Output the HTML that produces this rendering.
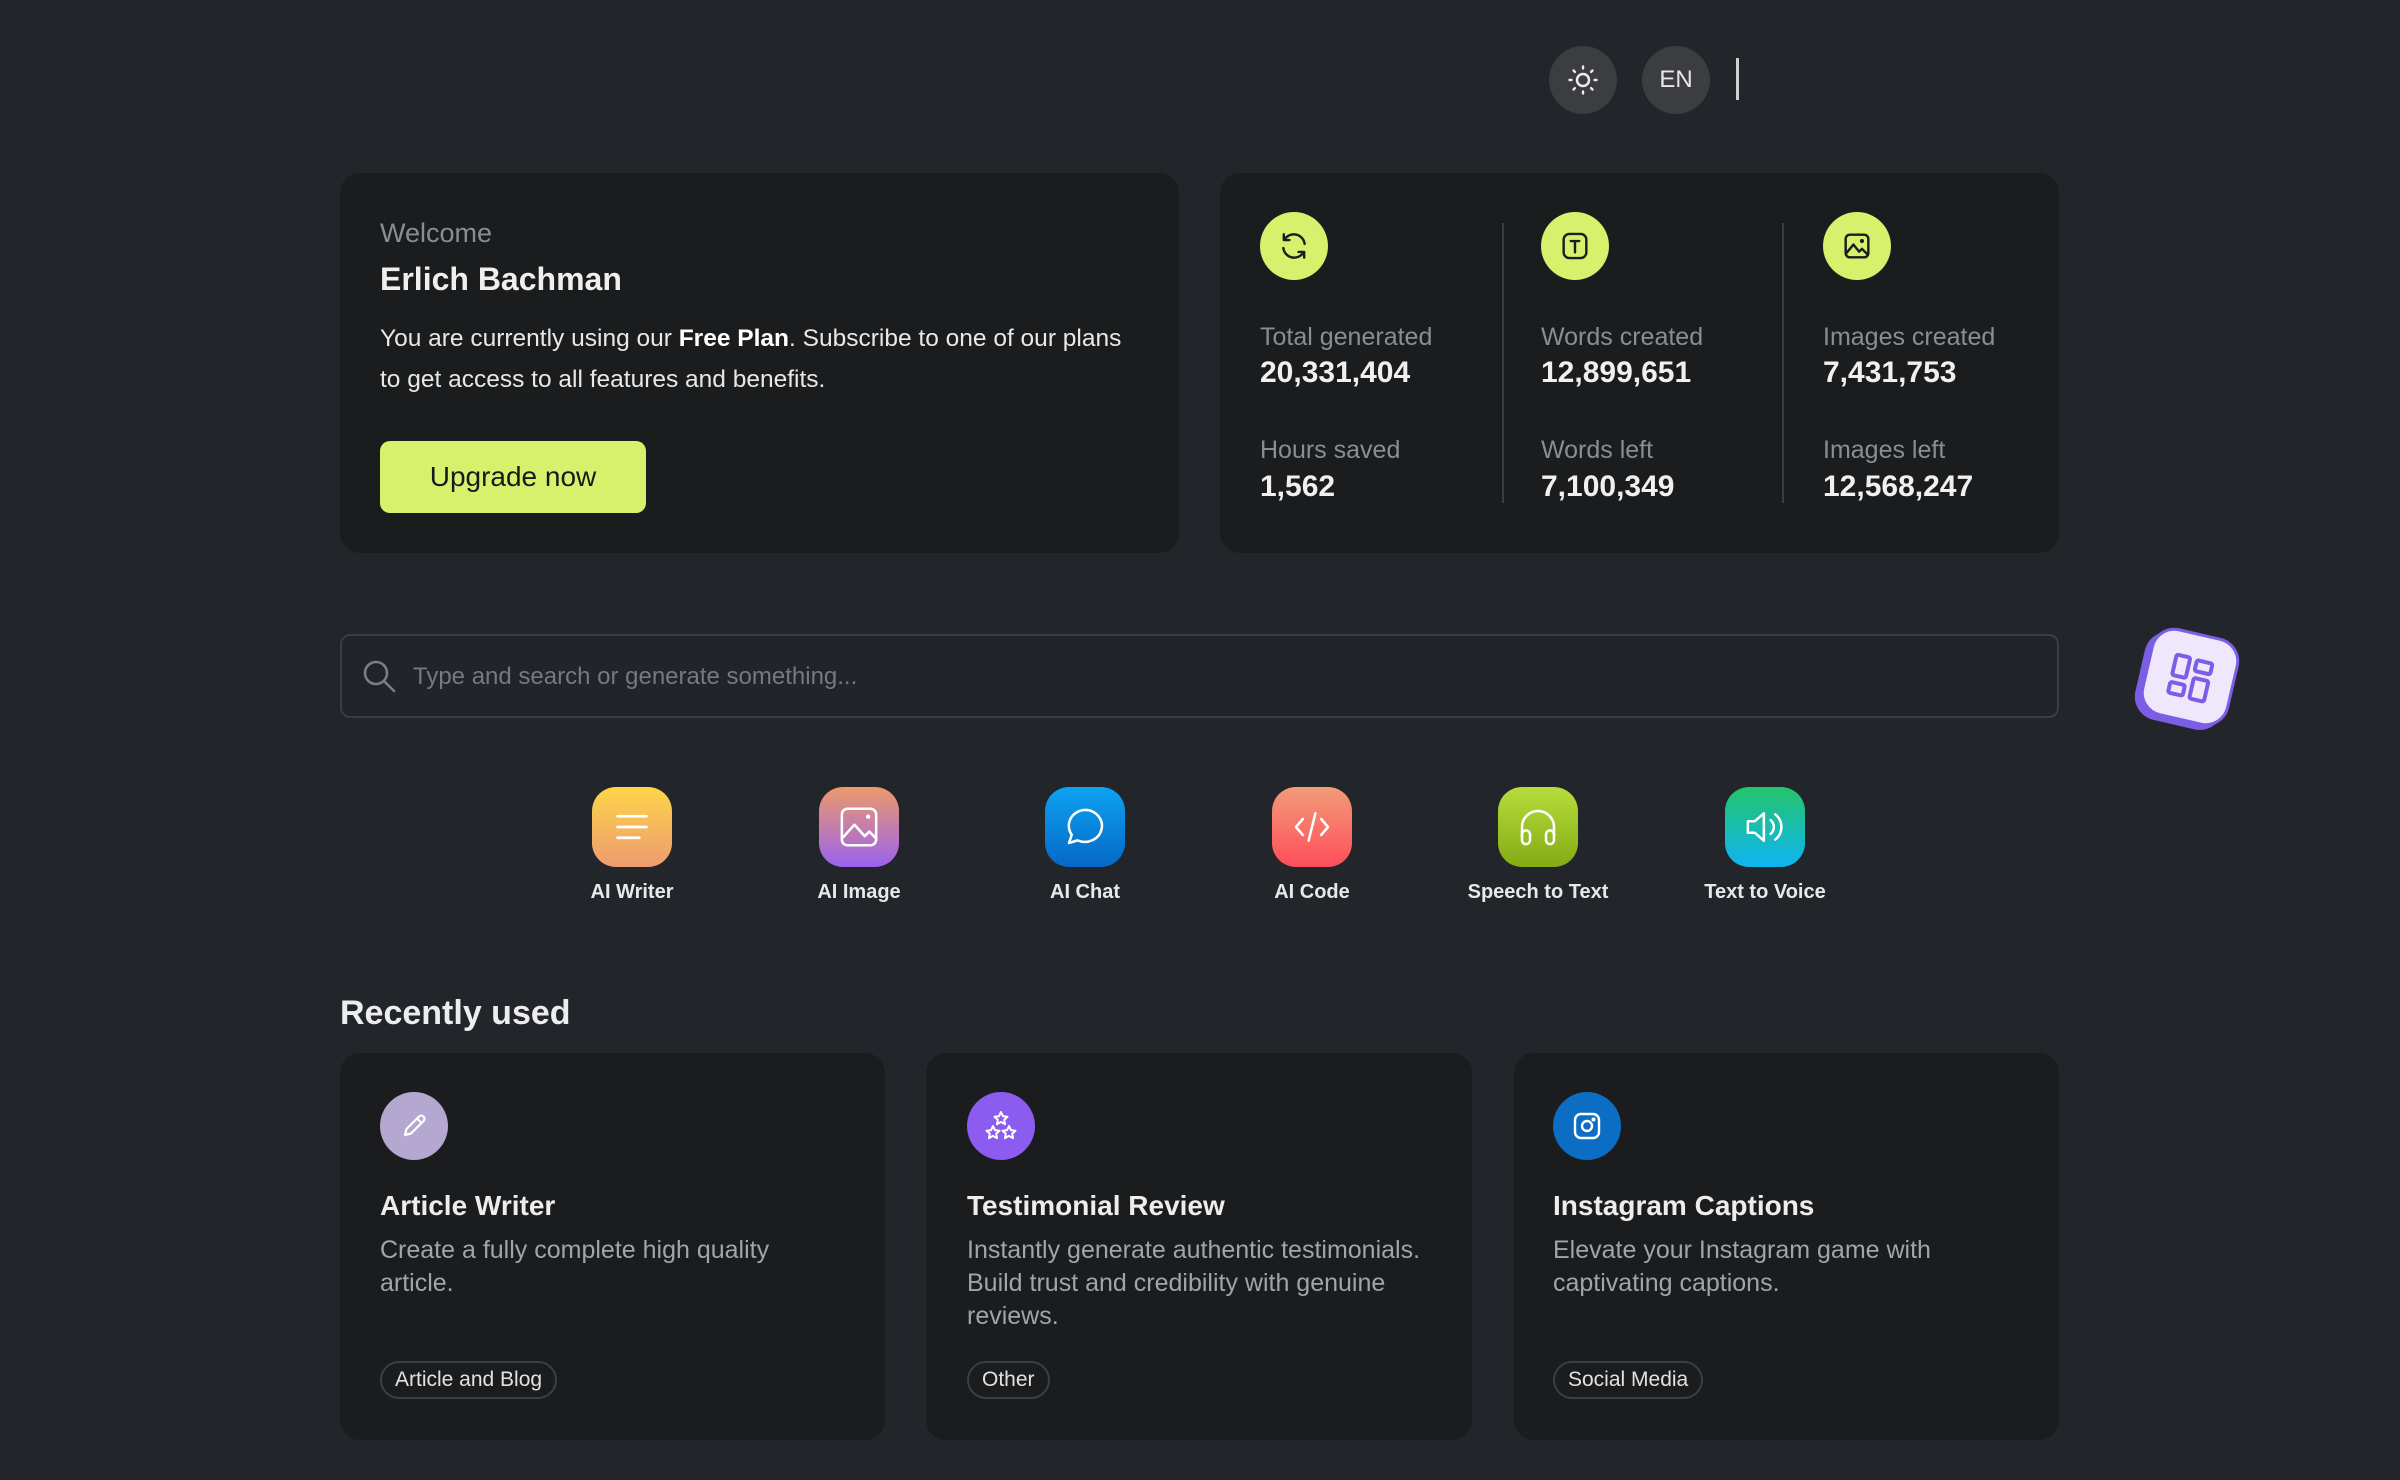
<!DOCTYPE html>
<html><head><meta charset="utf-8">
<style>
*{margin:0;padding:0;box-sizing:border-box}
html,body{width:2400px;height:1480px;background:#222529;overflow:hidden}
body{position:relative;font-family:"Liberation Sans",Arial,sans-serif;color:#ececec}
.a{position:absolute;white-space:nowrap}
.card{position:absolute;background:#1a1c1e;border-radius:20px}
.circ{position:absolute;border-radius:50%;display:flex;align-items:center;justify-content:center}
.lime{background:#d7f16c;width:68px;height:68px}
.lbl{font-size:25px;color:#8b8d90;line-height:30px}
.val{font-size:30px;font-weight:bold;color:#f0f0f0;line-height:30px}
.div{position:absolute;width:2px;background:#3a3d41;top:223px;height:280px}
.tool{position:absolute;top:787px;width:80px;height:80px;border-radius:24px;display:flex;align-items:center;justify-content:center}
.tl{position:absolute;top:880px;width:240px;text-align:center;font-size:20px;font-weight:bold;line-height:24px;color:#e8e8e8}
.rc{position:absolute;top:1053px;height:387px;background:#1a1c1e;border-radius:20px}
.ri{position:absolute;top:39px;width:68px;height:68px;border-radius:50%;display:flex;align-items:center;justify-content:center}
.rt{position:absolute;top:136px;font-size:28px;font-weight:bold;line-height:34px;color:#ededed;white-space:nowrap}
.rd{position:absolute;top:181px;font-size:25px;line-height:33px;color:#a2a4a7;white-space:nowrap}
.tag{position:absolute;top:308px;height:38px;border:2px solid #3b3e42;border-radius:20px;font-size:21px;line-height:34px;color:#e2e2e2;padding:0 13px;white-space:nowrap}
</style></head><body>

<!-- header -->
<div class="circ" style="left:1549px;top:46px;width:68px;height:68px;background:#3b3d41">
<svg width="34" height="34" viewBox="0 0 34 34" fill="none" stroke="#ececec" stroke-width="2.4" stroke-linecap="round">
<circle cx="17" cy="17" r="6"/>
<line x1="17" y1="3.5" x2="17" y2="5.5"/><line x1="17" y1="28.5" x2="17" y2="30.5"/>
<line x1="3.5" y1="17" x2="5.5" y2="17"/><line x1="28.5" y1="17" x2="30.5" y2="17"/>
<line x1="7.5" y1="7.5" x2="8.9" y2="8.9"/><line x1="25.1" y1="25.1" x2="26.5" y2="26.5"/>
<line x1="7.5" y1="26.5" x2="8.9" y2="25.1"/><line x1="25.1" y1="8.9" x2="26.5" y2="7.5"/>
</svg></div>
<div class="circ" style="left:1642px;top:46px;width:68px;height:68px;background:#3b3d41;font-size:24px;color:#e6e6e6">EN</div>
<div class="a" style="left:1736px;top:58px;width:3px;height:42px;background:#d0d0d0"></div>

<!-- welcome card -->
<div class="card" style="left:340px;top:173px;width:839px;height:380px"></div>
<div class="a" style="left:380px;top:217px;font-size:27px;line-height:32px;color:#8b8d90">Welcome</div>
<div class="a" style="left:380px;top:259px;font-size:32px;line-height:40px;font-weight:bold;color:#efefef">Erlich Bachman</div>
<div class="a" style="left:380px;top:318px;font-size:24.5px;line-height:41px;color:#e8e8e8">You are currently using our <b style="color:#fff">Free Plan</b>. Subscribe to one of our plans<br>to get access to all features and benefits.</div>
<div class="a" style="left:380px;top:441px;width:266px;height:72px;border-radius:10px;background:#d7f16c;color:#17191a;font-size:28px;line-height:72px;text-align:center">Upgrade now</div>

<!-- stats card -->
<div class="card" style="left:1220px;top:173px;width:839px;height:380px"></div>
<div class="circ lime" style="left:1260px;top:212px">
<svg width="34" height="34" viewBox="0 0 24 24" fill="none" stroke="#1a1c1e" stroke-width="1.7" stroke-linecap="round" stroke-linejoin="round">
<path d="M19.5 10.5A7.7 7.7 0 0 0 5.2 7.6"/><path d="M4.5 13.5a7.7 7.7 0 0 0 14.3 2.9"/>
<path d="M4.8 3.8v4h4"/><path d="M19.2 20.2v-4h-4"/></svg></div>
<div class="circ lime" style="left:1541px;top:212px">
<svg width="34" height="34" viewBox="0 0 24 24" fill="none" stroke="#1a1c1e" stroke-width="1.7" stroke-linecap="round" stroke-linejoin="round">
<rect x="4" y="3.5" width="16" height="17" rx="4"/><path d="M9 8.5h6M12 8.5v8"/></svg></div>
<div class="circ lime" style="left:1823px;top:212px">
<svg width="34" height="34" viewBox="0 0 24 24" fill="none" stroke="#1a1c1e" stroke-width="1.7" stroke-linecap="round" stroke-linejoin="round">
<rect x="4" y="4" width="16" height="16" rx="3"/><path d="M4.5 17l5-6 4 5 2-2 4 4"/><circle cx="15.5" cy="8.5" r="0.6" fill="#1a1c1e"/></svg></div>
<div class="div" style="left:1502px"></div>
<div class="div" style="left:1782px"></div>

<div class="a lbl" style="left:1260px;top:322px">Total generated</div>
<div class="a val" style="left:1260px;top:358px">20,331,404</div>
<div class="a lbl" style="left:1260px;top:435px">Hours saved</div>
<div class="a val" style="left:1260px;top:472px">1,562</div>

<div class="a lbl" style="left:1541px;top:322px">Words created</div>
<div class="a val" style="left:1541px;top:358px">12,899,651</div>
<div class="a lbl" style="left:1541px;top:435px">Words left</div>
<div class="a val" style="left:1541px;top:472px">7,100,349</div>

<div class="a lbl" style="left:1823px;top:322px">Images created</div>
<div class="a val" style="left:1823px;top:358px">7,431,753</div>
<div class="a lbl" style="left:1823px;top:435px">Images left</div>
<div class="a val" style="left:1823px;top:472px">12,568,247</div>

<!-- search -->
<div class="a" style="left:340px;top:634px;width:1719px;height:84px;border:2px solid #3a3d42;border-radius:10px;background:#212428"></div>
<svg class="a" style="left:361px;top:658px" width="36" height="36" viewBox="0 0 36 36" fill="none" stroke="#7a7d81" stroke-width="2.6" stroke-linecap="round"><circle cx="15" cy="15" r="11"/><line x1="23" y1="23" x2="33" y2="33"/></svg>
<div class="a" style="left:413px;top:662px;font-size:24px;line-height:30px;color:#76797d">Type and search or generate something...</div>

<!-- floating grid icon -->
<div class="a" style="left:2145px;top:632px;width:90px;height:90px;transform:rotate(13deg);background:#efe8fd;border:3px solid #7c5de6;border-radius:24px;box-shadow:-5px 5px 0 #7c5de6">
<svg style="position:absolute;left:18px;top:18px" width="50" height="50" viewBox="0 0 50 50" fill="none" stroke="#7c5de6" stroke-width="4" stroke-linejoin="round">
<rect x="6" y="5" width="14" height="21" rx="2"/><rect x="27" y="6" width="16" height="11" rx="2"/>
<rect x="6" y="33" width="15" height="11" rx="2"/><rect x="28" y="24" width="15" height="21" rx="2"/></svg></div>

<!-- tools -->
<div class="tool" style="left:592px;background:linear-gradient(#fdd548,#ee9b70)">
<svg width="48" height="48" viewBox="0 0 40 40" stroke="#fff" stroke-width="2.3" stroke-linecap="round"><line x1="8" y1="11" x2="32" y2="11"/><line x1="8" y1="20" x2="32" y2="20"/><line x1="8" y1="29" x2="26" y2="29"/></svg></div>
<div class="tl" style="left:512px">AI Writer</div>

<div class="tool" style="left:819px;background:linear-gradient(#ec9a6a,#9c62ef)">
<svg width="48" height="48" viewBox="0 0 42 42" fill="none" stroke="#fff" stroke-width="2.2" stroke-linecap="round" stroke-linejoin="round"><rect x="6" y="5" width="30" height="32" rx="5"/><path d="M7 30l10-11 9 10 4-4 6 6"/><circle cx="29" cy="12" r="0.8" fill="#fff"/></svg></div>
<div class="tl" style="left:739px">AI Image</div>

<div class="tool" style="left:1045px;background:linear-gradient(#0ea3f2,#0568c6)">
<svg width="48" height="48" viewBox="0 0 42 42" fill="none" stroke="#fff" stroke-width="2.2" stroke-linejoin="round"><path d="M21 6a15 14 0 1 1-6.5 26.7L7 35l2.4-7.2A15 14 0 0 1 21 6z"/></svg></div>
<div class="tl" style="left:965px">AI Chat</div>

<div class="tool" style="left:1272px;background:linear-gradient(#f19c78,#ff4e5a)">
<svg width="48" height="48" viewBox="0 0 42 42" fill="none" stroke="#fff" stroke-width="2.2" stroke-linecap="round" stroke-linejoin="round"><path d="M13 14l-6 7 6 7M29 14l6 7-6 7M24 9l-6 24"/></svg></div>
<div class="tl" style="left:1192px">AI Code</div>

<div class="tool" style="left:1498px;background:linear-gradient(#b7dd3d,#84ab12)">
<svg width="48" height="48" viewBox="0 0 42 42" fill="none" stroke="#fff" stroke-width="2.2" stroke-linecap="round" stroke-linejoin="round"><path d="M7 29V21a14 14 0 0 1 28 0v8"/><rect x="7" y="24" width="7" height="12" rx="3.5"/><rect x="28" y="24" width="7" height="12" rx="3.5"/></svg></div>
<div class="tl" style="left:1418px">Speech to Text</div>

<div class="tool" style="left:1725px;background:linear-gradient(#24c46a,#0eb5f2)">
<svg width="48" height="48" viewBox="0 0 42 42" fill="none" stroke="#fff" stroke-width="2.2" stroke-linecap="round" stroke-linejoin="round"><path d="M6 16h6l8-7v24l-8-7H6z"/><path d="M26 15a8 8 0 0 1 0 12M30 10a14 14 0 0 1 0 22"/></svg></div>
<div class="tl" style="left:1645px">Text to Voice</div>

<!-- recently used -->
<div class="a" style="left:340px;top:993px;font-size:34px;font-weight:bold;line-height:40px;color:#ededed">Recently used</div>

<div class="rc" style="left:340px;width:545px">
<div class="ri" style="left:40px;background:#b4a7d0">
<svg width="34" height="34" viewBox="0 0 34 34" fill="none" stroke="#fff" stroke-width="2.2" stroke-linejoin="round"><path d="M8 26l1.5-6L22 7.5a3 3 0 0 1 4.5 4.5L14 24.5z"/><path d="M20 9.5l4.5 4.5"/></svg></div>
<div class="rt" style="left:40px">Article Writer</div>
<div class="rd" style="left:40px">Create a fully complete high quality<br>article.</div>
<div class="tag" style="left:40px">Article and Blog</div>
</div>

<div class="rc" style="left:926px;width:546px">
<div class="ri" style="left:41px;background:#8c5cf0">
<svg width="40" height="40" viewBox="0 0 40 40" fill="none" stroke="#fff" stroke-width="2" stroke-linejoin="round">
<path d="M20 6l2 4.2 4.5.5-3.3 3 .9 4.5-4.1-2.3-4.1 2.3.9-4.5-3.3-3 4.5-.5z"/>
<path d="M12 20l2 4.2 4.5.5-3.3 3 .9 4.5-4.1-2.3-4.1 2.3.9-4.5-3.3-3 4.5-.5z"/>
<path d="M28 20l2 4.2 4.5.5-3.3 3 .9 4.5-4.1-2.3-4.1 2.3.9-4.5-3.3-3 4.5-.5z"/></svg></div>
<div class="rt" style="left:41px">Testimonial Review</div>
<div class="rd" style="left:41px">Instantly generate authentic testimonials.<br>Build trust and credibility with genuine<br>reviews.</div>
<div class="tag" style="left:41px">Other</div>
</div>

<div class="rc" style="left:1514px;width:545px">
<div class="ri" style="left:39px;background:#0b6dc4">
<svg width="34" height="34" viewBox="0 0 34 34" fill="none" stroke="#fff" stroke-width="2.4"><rect x="5" y="5" width="24" height="24" rx="6"/><circle cx="17" cy="17" r="5"/><circle cx="23.5" cy="10.5" r="0.8" fill="#fff"/></svg></div>
<div class="rt" style="left:39px">Instagram Captions</div>
<div class="rd" style="left:39px">Elevate your Instagram game with<br>captivating captions.</div>
<div class="tag" style="left:39px">Social Media</div>
</div>

</body></html>
